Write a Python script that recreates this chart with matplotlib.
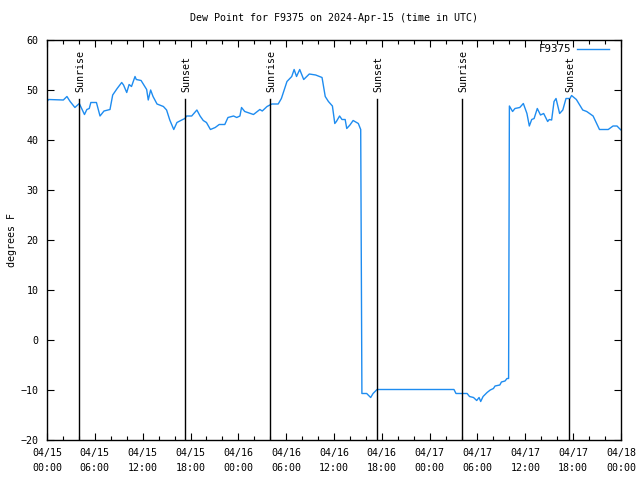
import matplotlib
matplotlib.use("Agg")
import matplotlib.pyplot as plt
from matplotlib.ticker import MultipleLocator

# hours since 2024-04-15 00:00 UTC, dew point in F
hours = [0.0, 0.2, 2.05, 2.5, 2.9, 3.5, 4.05, 4.7, 5.0, 5.3, 5.5, 6.2, 6.65,
         7.15, 7.9, 8.24, 8.8, 9.37, 9.6, 10.0, 10.3, 10.6, 11.04, 11.2, 11.8,
         12.5, 12.7, 13.0, 13.3, 13.8, 14.6, 15.0, 15.4, 15.9, 16.3, 16.9,
         17.3, 17.5, 18.15, 18.8, 19.2, 19.6, 20.0, 20.5, 21.1, 21.6, 22.3,
         22.7, 23.4, 23.8, 24.2, 24.4, 24.8, 25.9, 26.7, 27.0, 27.6, 28.2,
         29.0, 29.4, 30.1, 30.7, 31.0, 31.3, 31.7, 32.2, 32.9, 33.7, 34.5,
         34.9, 35.3, 35.8, 36.1, 36.3, 36.7, 37.0, 37.4, 37.6, 38.0, 38.4,
         39.05, 39.35, 39.5, 40.1, 40.6, 40.9, 41.4, 51.05, 51.3, 52.7, 53.0,
         53.5, 53.9, 54.2, 54.4, 54.7, 55.2, 55.6, 56.0, 56.2, 56.8, 57.0,
         57.45, 57.7, 57.9, 58.0, 58.4, 58.7, 59.3, 59.75, 60.2, 60.5, 60.8,
         61.1, 61.5, 61.9, 62.3, 62.8, 63.0, 63.3, 63.6, 63.85, 64.3, 64.7,
         65.1, 65.6, 65.8, 66.4, 67.2, 67.7, 68.5, 69.3, 70.4, 71.0, 71.5,
         71.8, 72.0]
dewpoint = [47.7, 48.1, 48.0, 48.7, 47.7, 46.5, 47.3, 45.1, 46.1, 46.3, 47.5,
            47.5, 44.8, 45.8, 46.1, 49.0, 50.3, 51.5, 51.0, 49.5, 51.1, 50.7,
            52.7, 52.1, 51.9, 50.1, 48.0, 50.0, 48.7, 47.2, 46.7, 46.0, 44.0,
            42.1, 43.5, 44.0, 44.3, 44.8, 44.8, 46.0, 44.8, 43.9, 43.5, 42.1,
            42.5, 43.1, 43.1, 44.5, 44.8, 44.5, 44.8, 46.5, 45.7, 45.1, 46.1,
            45.8, 46.7, 47.2, 47.2, 48.3, 51.7, 52.7, 54.1, 52.7, 54.1, 52.1,
            53.2, 53.0, 52.5, 48.7, 47.7, 46.8, 43.3, 43.7, 44.8, 44.1, 44.1,
            42.3, 43.0, 43.9, 43.3, 42.1, -10.7, -10.7, -11.5, -10.7, -9.9,
            -9.9, -10.7, -10.7, -11.3, -11.5, -12.1, -11.5, -12.3, -11.3,
            -10.5, -10.0, -9.7, -9.2, -9.0, -8.4, -8.2, -7.7, -7.7, 46.8, 45.7,
            46.3, 46.5, 47.3, 45.3, 42.8, 44.1, 44.3, 46.3, 45.0, 45.3, 43.7,
            44.1, 44.0, 47.7, 48.3, 45.3, 46.0, 48.3, 48.3, 48.9, 48.1, 46.0,
            45.7, 44.8, 42.1, 42.1, 42.8, 42.8, 42.3, 42.0]

sun_hours = [4.05, 17.3, 28.0, 41.4, 52.1, 65.5]
sun_labels = ["Sunrise", "Sunset", "Sunrise", "Sunset", "Sunrise", "Sunset"]

xtick_hours = list(range(0, 73, 6))
xtick_labels = ["04/15\n00:00", "04/15\n06:00", "04/15\n12:00", "04/15\n18:00",
                "04/16\n00:00", "04/16\n06:00", "04/16\n12:00", "04/16\n18:00",
                "04/17\n00:00", "04/17\n06:00", "04/17\n12:00", "04/17\n18:00",
                "04/18\n00:00"]

plt.rcParams['font.family'] = 'DejaVu Sans Mono'
plt.rcParams['font.size'] = 7.2

fig = plt.figure(figsize=(6.4, 4.8), dpi=100)
ax = fig.add_axes([47/640, 40/480, 574/640, 400/480])

ax.plot(hours, dewpoint, color='#1e8cf0', lw=1, label='F9375')

#sunrise / sunset markers
for h, lab in zip(sun_hours, sun_labels):
    ax.axvline(h, ymin=0, ymax=0.853, color='black', lw=1)
    ax.text(h + 0.15, 49.6, lab, rotation=90, ha='center', va='bottom')

ax.set_xlim(0, 72)
ax.set_ylim(-20, 60)
ax.set_xticks(xtick_hours)
ax.set_xticklabels(xtick_labels, linespacing=1.55)
ax.xaxis.set_minor_locator(MultipleLocator(2))
ax.yaxis.set_major_locator(MultipleLocator(10))
ax.tick_params(which='both', direction='in', top=True, right=True, width=0.8)
ax.tick_params(which='major', length=5, pad=6)
ax.tick_params(which='minor', length=3)
for s in ax.spines.values():
    s.set_linewidth(1)

ax.set_ylabel('degrees F')
ax.yaxis.set_label_coords(-0.052, 0.5)
ax.set_title('Dew Point for F9375 on 2024-Apr-15 (time in UTC)', fontsize=7.2, pad=14)

ax.legend(loc='upper right', bbox_to_anchor=(1 - 8/574, 1.0), frameon=False,
          markerfirst=False, fontsize=7.8, handlelength=2.9, borderaxespad=0.1,
          handletextpad=0.6, borderpad=0.3)

fig.savefig('out.png', dpi=100)
